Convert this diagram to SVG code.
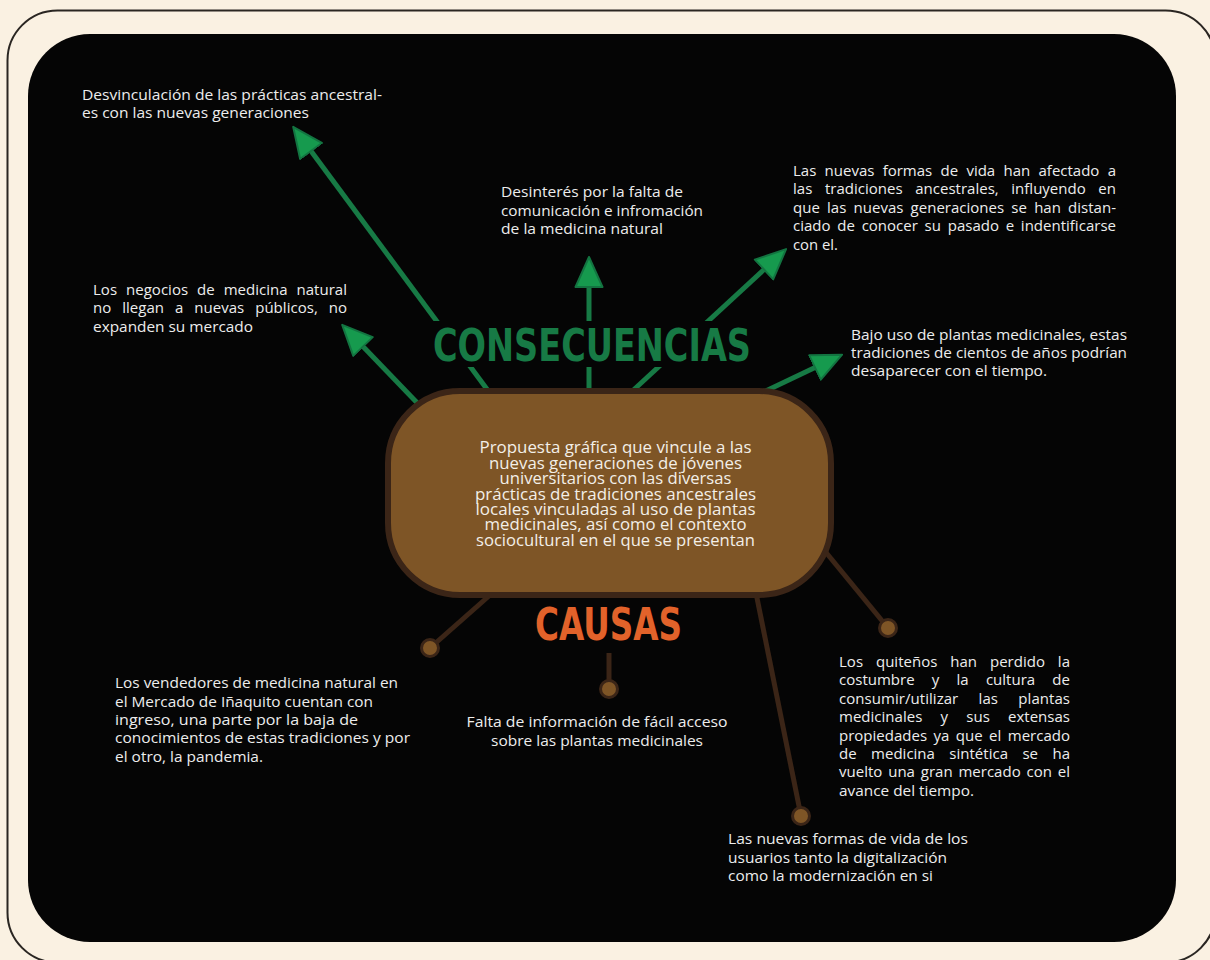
<svg xmlns="http://www.w3.org/2000/svg" width="1210" height="960" viewBox="0 0 1210 960">
<style>
.t{font-family:"Open Sans",Lato,sans-serif;font-size:15px;fill:#EDEDED}
.c{font-family:"Open Sans",Lato,sans-serif;font-size:15.5px;fill:#F3EFE8;text-anchor:middle}
.title{font-family:"DejaVu Sans",sans-serif;font-weight:700;font-size:44px}
.g{stroke:#177A45;stroke-width:5;fill:none;marker-end:url(#ah)}
.b{stroke:#3B2517;stroke-width:5;fill:none}
.dot{fill:#7E5526;stroke:#3B2517;stroke-width:3}
</style>
<defs>
<marker id="ah" viewBox="0 0 32 30" refX="1" refY="15" markerWidth="32" markerHeight="30" markerUnits="userSpaceOnUse" orient="auto">
<path d="M1,1.5 L31,15 L1,28.5 Z" fill="#169A4E" stroke="#137441" stroke-width="2" stroke-linejoin="round"/>
</marker>
</defs>
<rect width="1210" height="960" fill="#FAF1E2"/>
<rect x="7.5" y="10.5" width="1208" height="952" rx="50" fill="none" stroke="#2A2622" stroke-width="2"/>
<rect x="28" y="34" width="1148" height="908" rx="62" fill="#050505"/>

<g id="connectors">
<line class="g" x1="492" y1="396" x2="311" y2="151"/>
<line class="g" x1="425" y1="411" x2="363" y2="346.5"/>
<line class="g" x1="589" y1="400" x2="589" y2="287"/>
<line class="g" x1="627" y1="396" x2="764" y2="269.5"/>
<line class="g" x1="755" y1="396" x2="815" y2="367.5"/>
<line class="b" x1="498" y1="588" x2="430" y2="648"/>
<line class="b" x1="609" y1="653" x2="609" y2="689"/>
<line class="b" x1="755" y1="588" x2="801" y2="816"/>
<line class="b" x1="824" y1="550" x2="888" y2="628"/>
<circle class="dot" cx="430" cy="648" r="8.5"/>
<circle class="dot" cx="609" cy="689" r="8.5"/>
<circle class="dot" cx="801" cy="816" r="8.5"/>
<circle class="dot" cx="888" cy="628" r="8.5"/>
</g>

<g id="title-consecuencias">
<rect x="425" y="321" width="335" height="46" fill="#050505"/>
<text class="title" x="433" y="361" fill="#177A45" textLength="318" lengthAdjust="spacingAndGlyphs">CONSECUENCIAS</text>
</g>

<g id="center">
<rect x="388" y="391" width="443" height="204" rx="72" fill="#7E5526" stroke="#3B2517" stroke-width="6"/>
<text class="c" x="615.5" y="453.3" textLength="272" lengthAdjust="spacingAndGlyphs">Propuesta gráfica que vincule a las</text>
<text class="c" x="615.5" y="468.7" textLength="253" lengthAdjust="spacingAndGlyphs">nuevas generaciones de jóvenes</text>
<text class="c" x="615.5" y="484.1" textLength="232" lengthAdjust="spacingAndGlyphs">universitarios con las diversas</text>
<text class="c" x="615.5" y="499.5" textLength="281" lengthAdjust="spacingAndGlyphs">prácticas de tradiciones ancestrales</text>
<text class="c" x="615.5" y="514.9" textLength="280" lengthAdjust="spacingAndGlyphs">locales vinculadas al uso de plantas</text>
<text class="c" x="615.5" y="530.3" textLength="262" lengthAdjust="spacingAndGlyphs">medicinales, así como el contexto</text>
<text class="c" x="615.5" y="545.7" textLength="279" lengthAdjust="spacingAndGlyphs">sociocultural en el que se presentan</text>
</g>

<g id="title-causas">
<text class="title" x="535" y="640" fill="#E2622A" textLength="147" lengthAdjust="spacingAndGlyphs">CAUSAS</text>
</g>

<g id="cons-1">
<text class="t" x="82" y="100" textLength="300" lengthAdjust="spacingAndGlyphs">Desvinculación de las prácticas ancestral-</text>
<text class="t" x="82" y="118" textLength="227" lengthAdjust="spacingAndGlyphs">es con las nuevas generaciones</text>
</g>
<g id="cons-2">
<text class="t" x="93" y="295" textLength="254" style="word-spacing:5px">Los negocios de medicina natural</text>
<text class="t" x="93" y="313" textLength="254" style="word-spacing:7px">no llegan a nuevas públicos, no</text>
<text class="t" x="93" y="332" textLength="160" lengthAdjust="spacingAndGlyphs">expanden su mercado</text>
</g>
<g id="cons-3">
<text class="t" x="501" y="197" textLength="182" lengthAdjust="spacingAndGlyphs">Desinterés por la falta de</text>
<text class="t" x="501" y="216" textLength="202" lengthAdjust="spacingAndGlyphs">comunicación e infromación</text>
<text class="t" x="501" y="234" textLength="162" lengthAdjust="spacingAndGlyphs">de la medicina natural</text>
</g>
<g id="cons-4">
<text class="t" x="793" y="176" textLength="323" style="word-spacing:4.4px">Las nuevas formas de vida han afectado a</text>
<text class="t" x="793" y="194" textLength="323" style="word-spacing:8.7px">las tradiciones ancestrales, influyendo en</text>
<text class="t" x="793" y="213" textLength="323" style="word-spacing:3.3px">que las nuevas generaciones se han distan-</text>
<text class="t" x="793" y="231" textLength="323" style="word-spacing:2.8px">ciado de conocer su pasado e indentificarse</text>
<text class="t" x="793" y="250" textLength="45" lengthAdjust="spacingAndGlyphs">con el.</text>
</g>
<g id="cons-5">
<text class="t" x="851" y="340" textLength="276" lengthAdjust="spacingAndGlyphs">Bajo uso de plantas medicinales, estas</text>
<text class="t" x="851" y="358" textLength="276" lengthAdjust="spacingAndGlyphs">tradiciones de cientos de años podrían</text>
<text class="t" x="851" y="376" textLength="196" lengthAdjust="spacingAndGlyphs">desaparecer con el tiempo.</text>
</g>

<g id="cause-1">
<text class="t" x="115" y="688" textLength="283" lengthAdjust="spacingAndGlyphs">Los vendedores de medicina natural en</text>
<text class="t" x="115" y="707" textLength="258" lengthAdjust="spacingAndGlyphs">el Mercado de Iñaquito cuentan con</text>
<text class="t" x="115" y="725" textLength="243" lengthAdjust="spacingAndGlyphs">ingreso, una parte por la baja de</text>
<text class="t" x="115" y="743" textLength="295" lengthAdjust="spacingAndGlyphs">conocimientos de estas tradiciones y por</text>
<text class="t" x="115" y="762" textLength="148" lengthAdjust="spacingAndGlyphs">el otro, la pandemia.</text>
</g>
<g id="cause-2">
<text class="t" x="597" y="727" text-anchor="middle" textLength="261" lengthAdjust="spacingAndGlyphs">Falta de información de fácil acceso</text>
<text class="t" x="597" y="746" text-anchor="middle" textLength="212" lengthAdjust="spacingAndGlyphs">sobre las plantas medicinales</text>
</g>
<g id="cause-3">
<text class="t" x="839" y="667" textLength="231" style="word-spacing:9px">Los quiteños han perdido la</text>
<text class="t" x="839" y="685.4" textLength="231" style="word-spacing:13.3px">costumbre y la cultura de</text>
<text class="t" x="839" y="703.8" textLength="231" style="word-spacing:16.4px">consumir/utilizar las plantas</text>
<text class="t" x="839" y="722.2" textLength="231" style="word-spacing:14.3px">medicinales y sus extensas</text>
<text class="t" x="839" y="740.6" textLength="231" style="word-spacing:2.5px">propiedades ya que el mercado</text>
<text class="t" x="839" y="759" textLength="231" style="word-spacing:10.5px">de medicina sintética se ha</text>
<text class="t" x="839" y="777.4" textLength="231" style="word-spacing:1.9px">vuelto una gran mercado con el</text>
<text class="t" x="839" y="795.8" textLength="135" lengthAdjust="spacingAndGlyphs">avance del tiempo.</text>
</g>
<g id="cause-4">
<text class="t" x="728" y="844" textLength="240" lengthAdjust="spacingAndGlyphs">Las nuevas formas de vida de los</text>
<text class="t" x="728" y="863" textLength="219" lengthAdjust="spacingAndGlyphs">usuarios tanto la digitalización</text>
<text class="t" x="728" y="881" textLength="205" lengthAdjust="spacingAndGlyphs">como la modernización en si</text>
</g>
</svg>
